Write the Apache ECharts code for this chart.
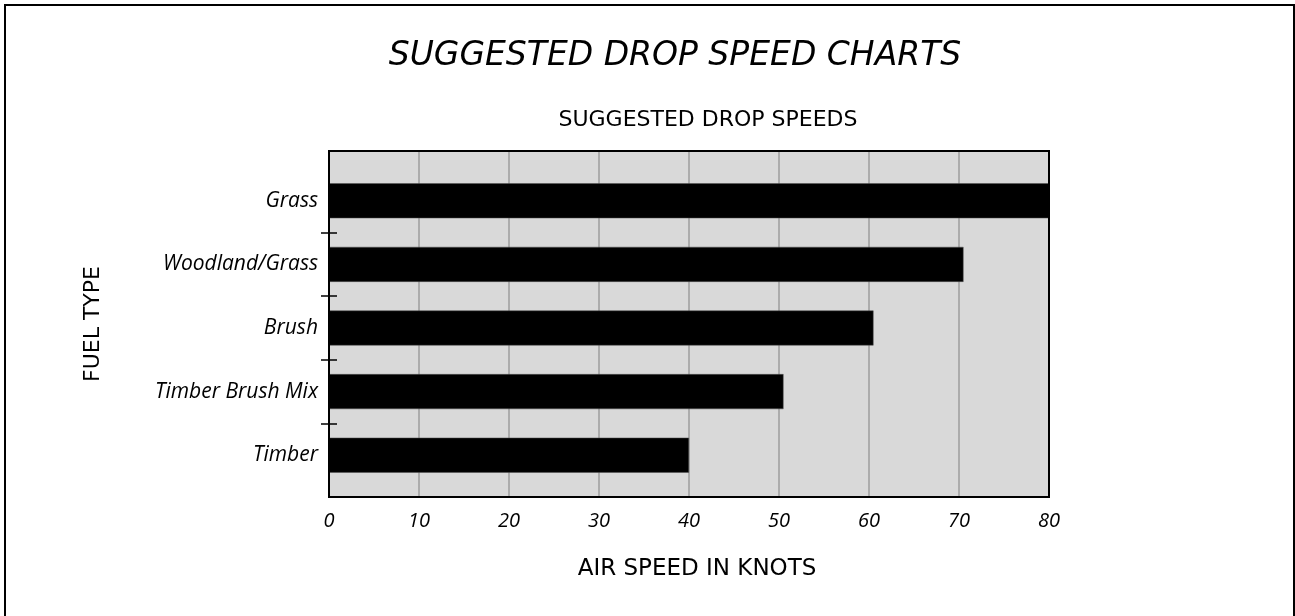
<!DOCTYPE html>
<html>
<head>
<meta charset="utf-8">
<title>Suggested drop speed charts</title>
<script src="https://cdn.jsdelivr.net/npm/echarts@6/dist/echarts.min.js"></script>
<style>
  html, body { margin: 0; padding: 0; background: #fff; overflow: hidden; }
  /* outer page frame, bottom edge runs off the picture */
  #frame { position: absolute; left: 4px; top: 4px; width: 1291px; height: 700px; border: 2px solid #000; box-sizing: border-box; }
  #main { position: absolute; left: 0; top: 0; width: 1295px; height: 616px; }
</style>
</head>
<body>
<div id="frame"></div>
<div id="main"></div>
<script>
// data
var fuelTypes = ['Grass', 'Woodland/Grass', 'Brush', 'Timber Brush Mix', 'Timber'];
var dropSpeeds = [80, 70.5, 60.5, 50.5, 40];
var speedTicks = [0, 80, 10];          // min, max, step of the knots axis
var boundarySlots = ['b1', 'b2', 'b3', 'b4'];  // inner category boundaries (tick marks only)

var W = 1295, H = 616;
var font = 'Open Sans';
var capsFont = 'DejaVu Sans';
// plot box and the band area the bars sit in
var plotL = 329, plotR = 1049, plotT = 151, plotB = 497;
var barT = 169, barB = 487;
var band = (barB - barT) / fuelTypes.length;
var plotBox = { left: plotL, right: W - plotR, top: plotT, bottom: H - plotB };

var myChart = echarts.init(document.getElementById('main'), null, { renderer: 'canvas' });

var option = {
  animation: false,
  title: [{
    text: 'SUGGESTED DROP SPEED CHARTS',
    left: 675, top: 40, padding: 0,
    textAlign: 'center',
    textStyle: { fontFamily: capsFont, fontSize: 33, fontStyle: 'italic', fontWeight: 'normal', color: '#000' }
  }, {
    text: 'SUGGESTED DROP SPEEDS',
    left: 708, top: 109, padding: 0,
    textAlign: 'center',
    textStyle: { fontFamily: capsFont, fontSize: 22, fontWeight: 'normal', color: '#000' }
  }],
  grid: [
    // grey background
    Object.assign({ show: true, backgroundColor: '#d9d9d9', borderWidth: 0 }, plotBox),
    // bars
    { left: plotL, right: W - plotR, top: barT, bottom: H - barB },
    // inner tick marks
    { left: plotL, right: W - plotR, top: barT + band, bottom: H - barB + band },
    // black frame drawn on top
    Object.assign({ show: true, z: 5, backgroundColor: 'transparent', borderColor: '#000', borderWidth: 2 }, plotBox)
  ],
  xAxis: [{
    gridIndex: 0, type: 'value',
    min: speedTicks[0], max: speedTicks[1], interval: speedTicks[2],
    axisLine: { show: false },
    axisTick: { show: false },
    splitLine: { lineStyle: { color: '#9c9c9c', width: 1.5 } },
    axisLabel: { fontFamily: font, fontSize: 20, fontStyle: 'italic', color: '#000', margin: 14 },
    name: 'AIR SPEED IN KNOTS',
    nameLocation: 'middle', nameGap: 61,
    nameTextStyle: { fontFamily: capsFont, fontSize: 23, color: '#000', padding: [0, 0, 0, 16] }
  }, {
    gridIndex: 1, type: 'value', min: speedTicks[0], max: speedTicks[1], show: false
  }, {
    gridIndex: 2, type: 'value', min: 0, max: 1, show: false
  }, {
    gridIndex: 3, type: 'value', min: 0, max: 1, show: false
  }],
  yAxis: [{
    gridIndex: 0, type: 'value', min: 0, max: 1,
    axisLine: { show: false }, axisTick: { show: false },
    axisLabel: { show: false }, splitLine: { show: false },
    name: 'FUEL TYPE', nameLocation: 'middle', nameGap: 225, nameRotate: 90,
    nameTextStyle: { fontFamily: capsFont, fontSize: 22, color: '#000' }
  }, {
    gridIndex: 1, type: 'category', inverse: true, data: fuelTypes,
    axisLine: { show: false }, axisTick: { show: false },
    axisLabel: { fontFamily: font, fontSize: 21, fontStyle: 'italic', color: '#000', margin: 11 }
  }, {
    // ticks crossing the left edge
    gridIndex: 2, type: 'category', data: boundarySlots, boundaryGap: false,
    offset: -8,
    axisLine: { show: false },
    axisTick: { length: 16, lineStyle: { color: '#000', width: 1.5 } },
    axisLabel: { show: false }
  }, {
    gridIndex: 3, type: 'value', min: 0, max: 1, show: false
  }],
  series: [{
    type: 'bar',
    xAxisIndex: 1, yAxisIndex: 1,
    data: dropSpeeds,
    barWidth: 35,
    itemStyle: { color: '#000', borderColor: '#555', borderWidth: 0.5 },
    silent: true
  }]
};

myChart.setOption(option);
</script>
</body>
</html>
